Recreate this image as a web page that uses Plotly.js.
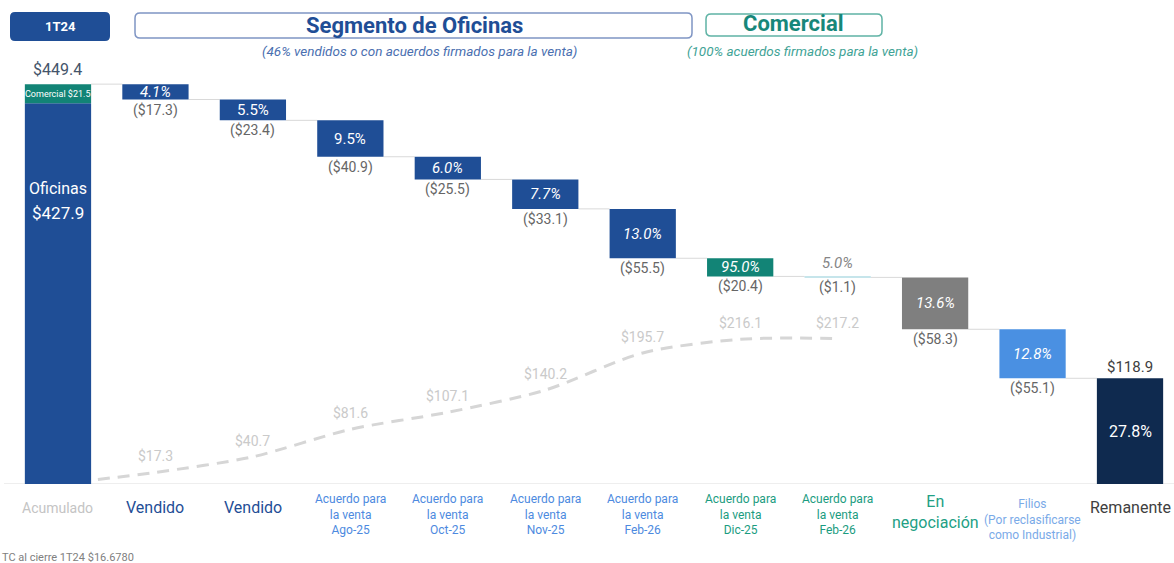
<!DOCTYPE html>
<html><head><meta charset="utf-8">
<script src="https://cdn.plot.ly/plotly-3.0.1.min.js"></script>
<style>html,body{margin:0;padding:0;background:#fff;}#chart{width:1174px;height:563px;}</style>
</head><body><div id="chart"></div>
<script>
// ---------- DATA ----------
const categories = [
  'Acumulado', 'Vendido', 'Vendido',
  'Acuerdo para<br>la venta<br>Ago-25', 'Acuerdo para<br>la venta<br>Oct-25',
  'Acuerdo para<br>la venta<br>Nov-25', 'Acuerdo para<br>la venta<br>Feb-26',
  'Acuerdo para<br>la venta<br>Dic-25', 'Acuerdo para<br>la venta<br>Feb-26',
  'En<br>negociación', 'Filios<br>(Por reclasificarse<br>como Industrial)', 'Remanente'
];
const oficinasValue = 427.9;
const comercialValue = 21.5;
const dropValues = [17.3, 23.4, 40.9, 25.5, 33.1, 55.5, 20.4, 1.1, 58.3, 55.1];
const dropPercents = [4.1, 5.5, 9.5, 6.0, 7.7, 13.0, 95.0, 5.0, 13.6, 12.8];
const remanenteValue = 118.9;
const remanentePercent = 27.8;
const cumulativeSold = [0, 17.3, 40.7, 81.6, 107.1, 140.2, 195.7, 216.1, 217.2];
const exchangeNote = 'TC al cierre 1T24 $16.6780';

// ---------- STYLES ----------
const C = {
  blue: '#1f4e96', teal: '#128476', lightTeal: '#8ecbd8', gray: '#7f7f7f',
  lightBlue: '#4a90e2', navy: '#0f2a4f'
};
const barColors = [C.blue, C.blue, C.blue, C.blue, C.blue, C.blue, C.teal, C.lightTeal, C.gray, C.lightBlue];
const pctItalic = [true, false, false, true, true, true, true, true, true, true];
const labelStyles = [
  {color:'#c4c4c4', size:14, shift:-24},
  {color:'#1f4e96', size:16, shift:-23},
  {color:'#1f4e96', size:16, shift:-23},
  {color:'#4d8ae0', size:12, shift:-30},
  {color:'#4d8ae0', size:12, shift:-30},
  {color:'#4d8ae0', size:12, shift:-30},
  {color:'#4d8ae0', size:12, shift:-30},
  {color:'#1b9c7f', size:12, shift:-30},
  {color:'#1b9c7f', size:12, shift:-30},
  {color:'#22a084', size:16, shift:-28},
  {color:'#7aaae8', size:12, shift:-35},
  {color:'#404040', size:16, shift:-23}
];

const W = 1174, H = 563, M = {l:19, r:5, t:40, b:79};
const PW = W - M.l - M.r, PH = H - M.t - M.b, BASE_PX = H - M.b;
const px = x => (x - M.l) / PW;
const py = y => (BASE_PX - y) / PH;
function roundRect(x0, y0, x1, y1, r) {
  const X = px, Y = py;
  return `M${X(x0+r)},${Y(y0)} L${X(x1-r)},${Y(y0)} Q${X(x1)},${Y(y0)} ${X(x1)},${Y(y0+r)} ` +
         `L${X(x1)},${Y(y1-r)} Q${X(x1)},${Y(y1)} ${X(x1-r)},${Y(y1)} L${X(x0+r)},${Y(y1)} ` +
         `Q${X(x0)},${Y(y1)} ${X(x0)},${Y(y1-r)} L${X(x0)},${Y(y0+r)} Q${X(x0)},${Y(y0)} ${X(x0+r)},${Y(y0)} Z`;
}

// ---------- DERIVED ----------
const total = oficinasValue + comercialValue;
const dropBases = [];
let level = total;
dropValues.forEach(v => { level -= v; dropBases.push(level); });
const idx = categories.map((_, i) => i);

const barBase = [0, ...dropBases, 0];
const barY = [oficinasValue, ...dropValues, remanenteValue];
const barCol = [C.blue, ...barColors, C.navy];

const traces = [
  { // cumulative sold line (behind the bars)
    type:'scatter', x: cumulativeSold.map((_, i) => i), y: cumulativeSold,
    xaxis:'x', yaxis:'y', mode:'lines',
    line:{color:'#d6d6d6', width:3, dash:'12px,8px', shape:'spline', smoothing:0.8},
    hoverinfo:'skip', showlegend:false
  },
  { // connectors only
    type:'waterfall', x: idx, xaxis:'x', yaxis:'y2',
    measure: ['absolute', ...dropValues.map(() => 'relative'), 'total'],
    y: [total, ...dropValues.map(v => -v), 0],
    increasing:{marker:{color:'rgba(0,0,0,0)', line:{width:0}}},
    decreasing:{marker:{color:'rgba(0,0,0,0)', line:{width:0}}},
    totals:{marker:{color:'rgba(0,0,0,0)', line:{width:0}}},
    connector:{line:{color:'#d9d9d9', width:1}, mode:'between'},
    textinfo:'none', hoverinfo:'skip', showlegend:false
  },
  {
    type:'bar', x: idx, base: barBase, y: barY, xaxis:'x', yaxis:'y2',
    marker:{color: barCol, line:{width:0}}, hoverinfo:'skip', showlegend:false
  },
  {
    type:'bar', x:[0], base:[oficinasValue], y:[comercialValue], xaxis:'x', yaxis:'y2',
    marker:{color: C.teal, line:{width:0}}, hoverinfo:'skip', showlegend:false
  }
];

const ann = [];
// cumulative line labels
cumulativeSold.forEach((v, i) => {
  if (v === 0) return;
  ann.push({x:i, xref:'x', y:v, yref:'y', yanchor:'bottom', yshift:6, text:'$' + v.toFixed(1),
    showarrow:false, font:{color:'#cacaca', size:14}});
});
// category labels
categories.forEach((c, i) => {
  const s = labelStyles[i];
  ann.push({x:i, xref:'x', y:0, yref:'paper', yanchor:'middle', yshift:s.shift, text:c,
    showarrow:false, font:{color:s.color, size:s.size}, align:'center'});
});
// percentages and dollar labels for drops
dropValues.forEach((v, k) => {
  const i = k + 1, b = dropBases[k];
  const t = pctItalic[k] ? `<i>${dropPercents[k].toFixed(1)}%</i>` : `${dropPercents[k].toFixed(1)}%`;
  if (v < 5) {
    ann.push({x:i, xref:'x', y:b + v, yref:'y2', yanchor:'bottom', yshift:2, text:t, showarrow:false,
      font:{color:'#858585', size:15}});
  } else {
    ann.push({x:i, xref:'x', y:b + v/2, yref:'y2', yanchor:'middle', text:t, showarrow:false,
      font:{color:'#ffffff', size:15}});
  }
  ann.push({x:i, xref:'x', y:b, yref:'y2', yanchor:'top', yshift:0, text:'($' + v.toFixed(1) + ')',
    showarrow:false, font:{color:'#666666', size:14}});
});
// remanente
ann.push({x:11, xref:'x', y:remanenteValue/2, yref:'y2', yanchor:'middle', text:remanentePercent.toFixed(1) + '%',
  showarrow:false, font:{color:'#ffffff', size:16}});
ann.push({x:11, xref:'x', y:remanenteValue, yref:'y2', yanchor:'bottom', yshift:0, text:'$' + remanenteValue.toFixed(1),
  showarrow:false, font:{color:'#404040', size:15}});
// acumulado
ann.push({x:0, xref:'x', y:total, yref:'y2', yanchor:'bottom', yshift:3, text:'$' + total.toFixed(1),
  showarrow:false, font:{color:'#44546a', size:16}});
ann.push({x:0, xref:'x', y:oficinasValue + comercialValue/2, yref:'y2', yanchor:'middle',
  text:'Comercial $' + comercialValue.toFixed(1), showarrow:false, font:{color:'#ffffff', size:9}});
ann.push({x:0, xref:'x', y:oficinasValue, yref:'y2', yanchor:'middle', yshift:-85, text:'Oficinas',
  showarrow:false, font:{color:'#ffffff', size:16}});
ann.push({x:0, xref:'x', y:oficinasValue, yref:'y2', yanchor:'middle', yshift:-110, text:'$' + oficinasValue.toFixed(1),
  showarrow:false, font:{color:'#ffffff', size:17}});
// header
const hdr = (x, y, text, font, xanchor) => ann.push({x:px(x), y:py(y), xref:'paper', yref:'paper',
  xanchor: xanchor || 'center', yanchor:'middle', text, showarrow:false, font});
hdr(60, 27, '<b>1T24</b>', {color:'#ffffff', size:13});
hdr(414, 25, '<b>Segmento de Oficinas</b>', {color:'#1f4e96', size:22});
hdr(420, 51, '<i>(46% vendidos o con acuerdos firmados para la venta)</i>', {color:'#4a6fb0', size:13.5});
hdr(793, 24, '<b>Comercial</b>', {color:'#17877a', size:22});
hdr(802, 51, '<i>(100% acuerdos firmados para la venta)</i>', {color:'#3fa396', size:13.5});
hdr(0, 557, exchangeNote, {color:'#808080', size:11}, 'left');

const shapes = [
  {type:'path', xref:'paper', yref:'paper', path: roundRect(10, 12, 110, 41, 5), fillcolor: C.blue, line:{width:0}},
  {type:'path', xref:'paper', yref:'paper', path: roundRect(135, 13, 692, 38, 5), fillcolor:'#ffffff', line:{color:'#7f95c4', width:1.5}},
  {type:'path', xref:'paper', yref:'paper', path: roundRect(706, 14, 882, 36, 5), fillcolor:'#ffffff', line:{color:'#5fb3a5', width:1.5}},
  {type:'line', xref:'paper', yref:'y2', x0: px(4), x1: px(1174), y0: 0, y1: 0, line:{color:'#dcdcdc', width:1}, layer:'below'}
];

const layout = {
  width: W, height: H, margin: M, paper_bgcolor:'#fff', plot_bgcolor:'rgba(0,0,0,0)',
  font:{family:'Roboto, sans-serif'},
  barmode:'overlay', bargap:0.32, waterfallgap:0.32,
  xaxis:{type:'linear', range:[-0.4, 11.4], showticklabels:false, showgrid:false, zeroline:false, showline:false, fixedrange:true},
  yaxis:{range:[0, 663], visible:false, showgrid:false, zeroline:false, fixedrange:true},
  yaxis2:{range:[0, 499], overlaying:'y', visible:false, showgrid:false, zeroline:false, fixedrange:true},
  showlegend:false, annotations: ann, shapes
};
Plotly.newPlot('chart', traces, layout, {displayModeBar:false, staticPlot:true});
</script></body></html>
